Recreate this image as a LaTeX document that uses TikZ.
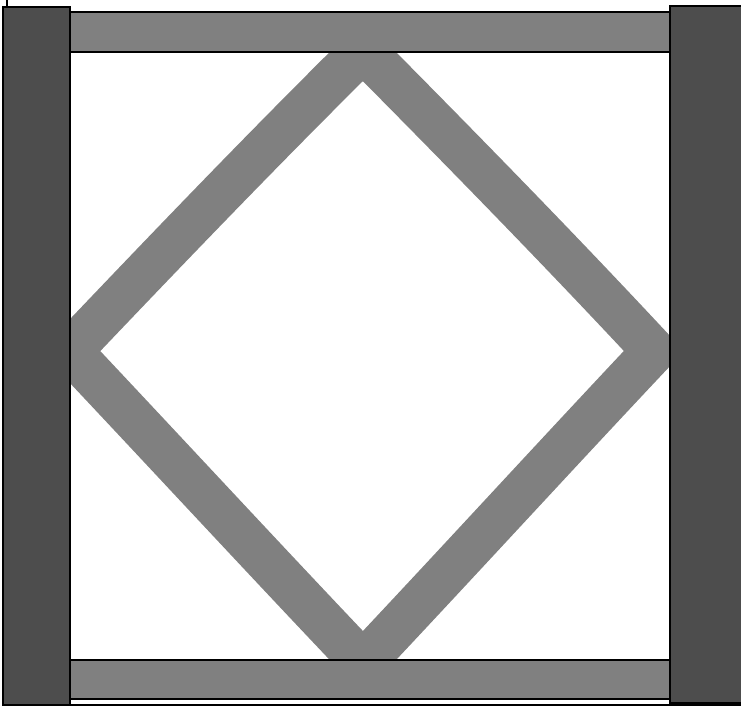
\documentclass[tikz,border=0pt]{standalone}
\definecolor{darkbar}{HTML}{4D4D4D}
\definecolor{midbar}{HTML}{808080}
\tikzset{
  barline/.style={draw=black, line width=1.6pt},
  darkpost/.style={barline, fill=darkbar},
  graybeam/.style={barline, fill=midbar},
  band/.style={draw=midbar, line width=44pt, line join=miter, miter limit=10},
}
\begin{document}
\begin{tikzpicture}[x=1pt,y=-1pt]
\useasboundingbox (0,0) rectangle (741,707);
% outer frame
\draw[line width=1.3pt] (7,-20) rectangle (760,705);
% diamond band
\coordinate (dt) at (363,50);
\coordinate (dl) at (70,351);
\coordinate (dr) at (654,351);
\coordinate (db) at (363,663);
\draw[band] (dt) .. controls (262,150) and (168,248) .. (dl)
  .. controls (168,455) and (265,560) .. (db)
  .. controls (460,560) and (556,455) .. (dr)
  .. controls (558,248) and (462,150) .. (dt) -- cycle;
% beams
\node[graybeam, minimum width=600pt, minimum height=40pt, inner sep=0pt, anchor=north west] (topbeam) at (69,11) {};
\node[graybeam, minimum width=600pt, minimum height=39pt, inner sep=0pt, anchor=north west] (botbeam) at (69,659) {};
% posts
\node[darkpost, minimum width=67pt, minimum height=698pt, inner sep=0pt, anchor=north west] (leftpost) at (2,6) {};
\node[darkpost, minimum width=80pt, minimum height=697pt, inner sep=0pt, anchor=north west] (rightpost) at (669,5) {};
\end{tikzpicture}
\end{document}
